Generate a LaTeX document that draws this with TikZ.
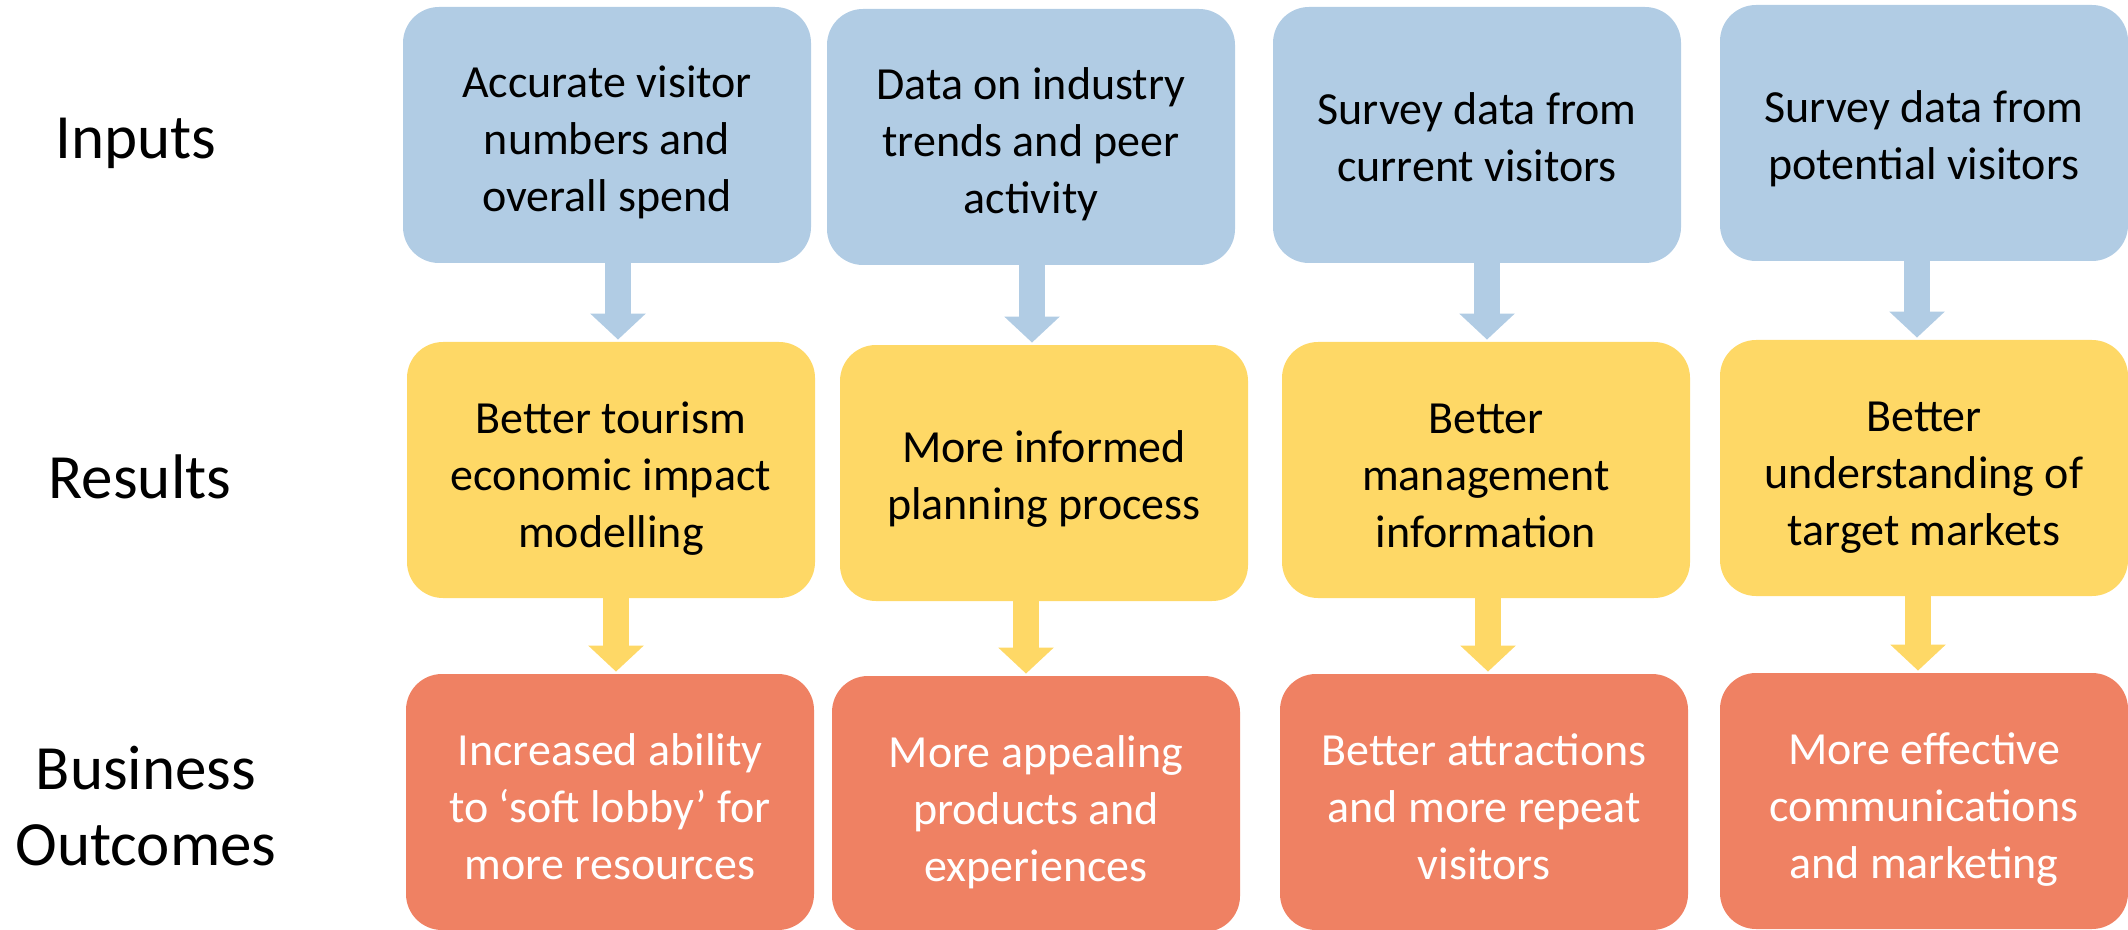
\documentclass[tikz,border=0pt]{standalone}
\usepackage{fontspec}
\setmainfont{Carlito}
\usetikzlibrary{arrows.meta}

\definecolor{inblue}{HTML}{B1CCE4}
\definecolor{resyellow}{HTML}{FED866}
\definecolor{outred}{HTML}{EF8163}

\tikzset{
  box/.style={rounded corners=18pt, minimum width=204pt, minimum height=128pt,
    align=center, inner sep=0pt, font=\fontsize{23}{28.5}\selectfont,
    text height=77pt, text depth=0pt}, % fixed text block, three lines
  twoline/.style={text height=46.5pt},
  inbox/.style={box, fill=inblue},
  resbox/.style={box, fill=resyellow},
  outbox/.style={box, fill=outred, text=white},
  rowlabel/.style={font=\fontsize{31.5}{38}\selectfont, align=center},
  flow/.style={line width=13pt, -{Triangle[width=27pt,length=13pt]}, shorten >=1pt}
}

\begin{document}
\begin{tikzpicture}[x=0.5pt, y=-0.5pt]
\useasboundingbox (0,0) rectangle (2128,930);

% row labels
\node[rowlabel, anchor=base] (lin) at (136,159) {Inputs};
\node[rowlabel, anchor=base] (lres) at (140,498) {Results};
\node[rowlabel] (lout) at (146,806) {Business\\Outcomes};

% inputs
\node[inbox] (in1) at (607,135) {Accurate visitor\\numbers and\\overall spend};
\node[inbox] (in2) at (1031,137) {Data on industry\\trends and peer\\activity};
\node[inbox, twoline] (in3) at (1477,135) {Survey data from\\current visitors};
\node[inbox, twoline] (in4) at (1924,133) {Survey data from\\potential visitors};

% results
\node[resbox] (res1) at (611,470) {Better tourism\\economic impact\\modelling};
\node[resbox, twoline] (res2) at (1044,473) {More informed\\planning process};
\node[resbox] (res3) at (1486,470) {Better\\management\\information};
\node[resbox] (res4) at (1924,468) {Better\\understanding of\\target markets};

% business outcomes
\node[outbox] (out1) at (610,802) {Increased ability\\to ‘soft lobby’ for\\more resources};
\node[outbox] (out2) at (1036,804) {More appealing\\products and\\experiences};
\node[outbox] (out3) at (1484,802) {Better attractions\\and more repeat\\visitors};
\node[outbox] (out4) at (1924,801) {More effective\\communications\\and marketing};

% arrows down each column, nudged off the box centres
\foreach \i/\da/\db in {1/5.5/2.5, 2/0.5/-9, 3/5/1, 4/-3.5/-3} {
  \draw[flow, inblue] ([xshift=\da pt]in\i.south) -- ([xshift=\da pt]in\i.south |- res\i.north);
  \draw[flow, resyellow] ([xshift=\db pt]res\i.south) -- ([xshift=\db pt]res\i.south |- out\i.north);
}
\end{tikzpicture}
\end{document}
